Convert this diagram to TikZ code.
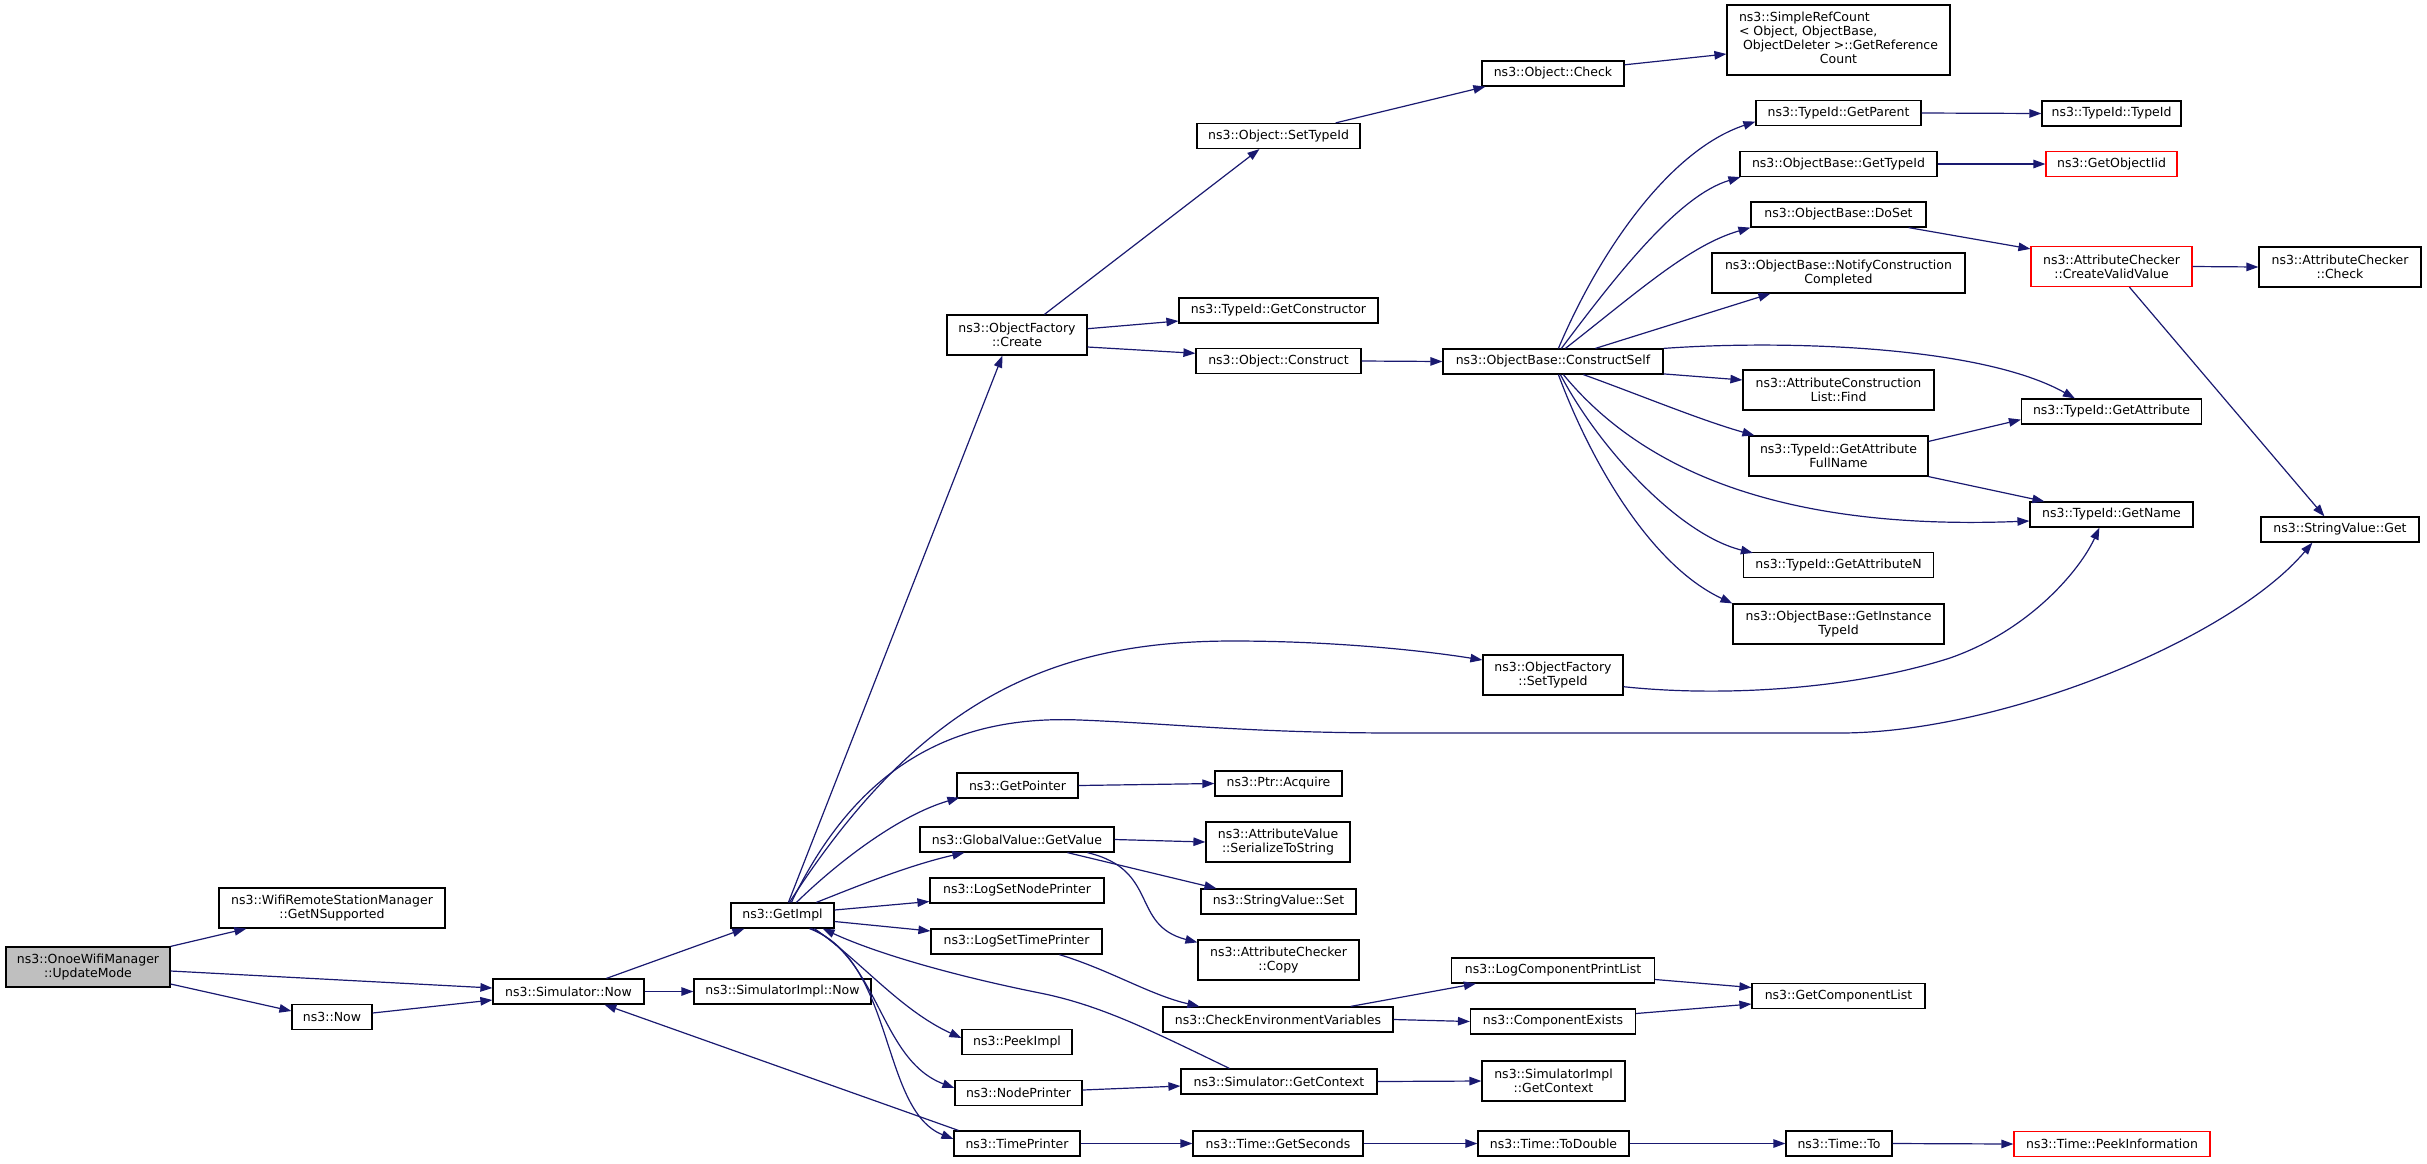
\documentclass[tikz,border=0pt]{standalone}
\usepackage{fontspec}
\setmainfont{DejaVu Sans}
\usetikzlibrary{arrows.meta}
\definecolor{mblue}{RGB}{25,25,112}
\definecolor{rootgray}{RGB}{191,191,191}
\newcommand{\nbox}[7][]{\node[box,#1,minimum width=#5pt,minimum height=#6pt] (#2) at (#3,#4) {#7};}
\begin{document}
\begin{tikzpicture}[x=1pt,y=-1pt,
  box/.style={draw=black, line width=1.2pt, fill=white, inner sep=0pt, align=center, font=\fontsize{12.5}{14}\selectfont, rectangle},
  conn/.style={draw=mblue, line width=1.2pt, -{Triangle[length=12pt,width=8.5pt]}}]
\useasboundingbox (0,0) rectangle (2427,1163);

\nbox[fill=rootgray]{root}{88}{967}{164}{40}{ns3::OnoeWifiManager\\::UpdateMode}
\nbox{gns}{332}{908}{226}{40}{ns3::WifiRemoteStationManager\\::GetNSupported}
\nbox{now}{332}{1017}{80}{25}{ns3::Now}
\nbox{simnow}{568.5}{991.5}{151}{25}{ns3::Simulator::Now}
\nbox{simimplnow}{782.5}{991.5}{177}{25}{ns3::SimulatorImpl::Now}
\nbox{getimpl}{782.5}{915.5}{103}{25}{ns3::GetImpl}
\nbox{ofcreate}{1017}{335}{140}{40}{ns3::ObjectFactory\\::Create}
\nbox{osettid}{1278.5}{136}{163}{25}{ns3::Object::SetTypeId}
\nbox{ocheck}{1553}{73.5}{142}{25}{ns3::Object::Check}
\nbox{src}{1838.5}{40}{223}{70}{\begin{tabular}{@{}l@{}}ns3::SimpleRefCount\\< Object, ObjectBase,\\\multicolumn{1}{@{}c@{}}{\ ObjectDeleter >::GetReference}\\\multicolumn{1}{@{}c@{}}{Count}\end{tabular}}
\nbox{gcons}{1278.5}{310.5}{199}{25}{ns3::TypeId::GetConstructor}
\nbox{oconstruct}{1278.5}{361}{165}{25}{ns3::Object::Construct}
\nbox{cself}{1553}{361.5}{220}{25}{ns3::ObjectBase::ConstructSelf}
\nbox{getparent}{1838.5}{113}{165}{25}{ns3::TypeId::GetParent}
\nbox{tidtid}{2111.5}{113.5}{139}{25}{ns3::TypeId::TypeId}
\nbox{obgettid}{1838.5}{164}{197}{25}{ns3::ObjectBase::GetTypeId}
\nbox[draw=red]{goiid}{2111.5}{164}{131}{25}{ns3::GetObjectIid}
\nbox{doset}{1838.5}{214.5}{175}{25}{ns3::ObjectBase::DoSet}
\nbox[draw=red]{cvv}{2111.5}{266.5}{161}{40}{ns3::AttributeChecker\\::CreateValidValue}
\nbox{acheck}{2340}{267}{162}{40}{ns3::AttributeChecker\\::Check}
\nbox{notify}{1838.5}{273}{253}{40}{ns3::ObjectBase::NotifyConstruction\\Completed}
\nbox{acfind}{1838.5}{390}{191}{40}{ns3::AttributeConstruction\\List::Find}
\nbox{getattr}{2111.5}{411.5}{180}{25}{ns3::TypeId::GetAttribute}
\nbox{getfull}{1838.5}{456}{179}{40}{ns3::TypeId::GetAttribute\\FullName}
\nbox{getname}{2111.5}{514.5}{163}{25}{ns3::TypeId::GetName}
\nbox{svget}{2340}{529.5}{158}{25}{ns3::StringValue::Get}
\nbox{getattrn}{1838.5}{565}{190}{25}{ns3::TypeId::GetAttributeN}
\nbox{ginst}{1838.5}{624}{211}{40}{ns3::ObjectBase::GetInstance\\TypeId}
\nbox{ofsettid}{1553}{675}{140}{40}{ns3::ObjectFactory\\::SetTypeId}
\nbox{getptr}{1017.5}{785.5}{121}{25}{ns3::GetPointer}
\nbox{acquire}{1278.5}{783.5}{127}{25}{ns3::Ptr::Acquire}
\nbox{gvget}{1017}{839.5}{194}{25}{ns3::GlobalValue::GetValue}
\nbox{avser}{1278}{842}{144}{40}{ns3::AttributeValue\\::SerializeToString}
\nbox{lsnp}{1017}{890.5}{174}{25}{ns3::LogSetNodePrinter}
\nbox{svset}{1278.5}{901.5}{155}{25}{ns3::StringValue::Set}
\nbox{lstp}{1016.5}{941.5}{171}{25}{ns3::LogSetTimePrinter}
\nbox{accopy}{1278.5}{960}{161}{40}{ns3::AttributeChecker\\::Copy}
\nbox{cev}{1278}{1019.5}{230}{25}{ns3::CheckEnvironmentVariables}
\nbox{lcpl}{1553}{970.5}{203}{25}{ns3::LogComponentPrintList}
\nbox{cexists}{1553}{1021.5}{165}{25}{ns3::ComponentExists}
\nbox{gcl}{1838.5}{996}{173}{25}{ns3::GetComponentList}
\nbox{peek}{1017}{1042}{110}{25}{ns3::PeekImpl}
\nbox{nodep}{1018.5}{1093}{127}{25}{ns3::NodePrinter}
\nbox{timep}{1017}{1143.5}{126}{25}{ns3::TimePrinter}
\nbox{simctx}{1279}{1081.5}{196}{25}{ns3::Simulator::GetContext}
\nbox{simimplctx}{1553.5}{1081}{143}{40}{ns3::SimulatorImpl\\::GetContext}
\nbox{getsec}{1278}{1143.5}{170}{25}{ns3::Time::GetSeconds}
\nbox{todouble}{1553.5}{1143.5}{151}{25}{ns3::Time::ToDouble}
\nbox{timeto}{1839}{1143.5}{106}{25}{ns3::Time::To}
\nbox[draw=red]{peekinfo}{2112}{1144}{196}{25}{ns3::Time::PeekInformation}

% root edges
\draw[conn] (root.north east) -- ([xshift=28pt]gns.south west);
\draw[conn] ([yshift=-4pt]root.east) -- ([yshift=3.5pt]simnow.west);
\draw[conn] ([yshift=-17pt]root.east) -- ([yshift=6pt]now.west);
\draw[conn] ([yshift=4pt]now.east) -- ([yshift=-8.5pt]simnow.west);
\draw[conn] ([xshift=114pt]simnow.north west) -- ([xshift=14pt]getimpl.south west);
\draw[conn] (simnow.east) -- (simimplnow.west);

% GetImpl edges
\draw[conn] ([xshift=58pt]getimpl.north west) -- ([xshift=56pt]ofcreate.south west);
\draw[conn] ([xshift=59pt]getimpl.north west) .. controls (920,700) and (1050,641) .. (1233,641) .. controls (1330,641) and (1420,650) .. ([yshift=15pt]ofsettid.west);
\draw[conn] ([xshift=61pt]getimpl.north west) .. controls (860,760) and (960,715) .. (1080,720) .. controls (1180,724) and (1250,733) .. (1400,733) -- (1840,733) .. controls (2000,733) and (2230,640) .. ([xshift=52pt]svget.south west);
\draw[conn] ([xshift=66pt]getimpl.north west) .. controls (840,860) and (900,815) .. ([xshift=3pt,yshift=1pt]getptr.south west);
\draw[conn] ([xshift=86pt]getimpl.north west) .. controls (860,885) and (910,865) .. ([xshift=45pt]gvget.south west);
\draw[conn] ([yshift=5.5pt]getimpl.east) -- ([yshift=-11pt]lsnp.west);
\draw[conn] ([yshift=-6pt]getimpl.east) -- ([yshift=10.5pt]lstp.west);
\draw[conn] ([xshift=84pt]getimpl.south west) .. controls (860,960) and (900,1010) .. ([yshift=4pt]peek.west);
\draw[conn] ([xshift=81pt]getimpl.south west) .. controls (880,960) and (880,1060) .. ([yshift=5pt]nodep.west);
\draw[conn] ([xshift=79pt]getimpl.south west) .. controls (895,960) and (880,1110) .. ([yshift=4.5pt]timep.west);
\draw[conn] ([xshift=5pt]timep.north west) -- ([xshift=112pt]simnow.south west);
\draw[conn] ([xshift=49pt]simctx.north west) .. controls (1150,1030) and (1100,1005) .. (1040,993) .. controls (960,977) and (880,955) .. ([xshift=-12pt]getimpl.south east);

% middle column
\draw[conn] (gvget.east) -- (avser.west);
\draw[conn] ([xshift=148pt]gvget.south west) -- ([xshift=16pt]svset.north west);
\draw[conn] ([xshift=168pt]gvget.south west) .. controls (1160,870) and (1130,925) .. ([yshift=-3pt]accopy.north west);
\draw[conn] ([xshift=129pt]lstp.south west) .. controls (1110,970) and (1150,995) .. ([xshift=37pt]cev.north west);
\draw[conn] (getptr.east) -- (acquire.west);
\draw[conn] ([xshift=-43pt]cev.north east) -- ([xshift=25pt]lcpl.south west);
\draw[conn] (cev.east) -- (cexists.west);
\draw[conn] ([yshift=-9pt]lcpl.east) -- ([yshift=8.5pt]gcl.west);
\draw[conn] ([yshift=8pt]cexists.east) -- ([yshift=-8pt]gcl.west);
\draw[conn] ([yshift=3pt]nodep.east) -- ([yshift=-4.5pt]simctx.west);
\draw[conn] (simctx.east) -- (simimplctx.west);
\draw[conn] (timep.east) -- (getsec.west);
\draw[conn] (getsec.east) -- (todouble.west);
\draw[conn] (todouble.east) -- (timeto.west);
\draw[conn] (timeto.east) -- (peekinfo.west);

% ObjectFactory::Create branch
\draw[conn] ([xshift=98pt]ofcreate.north west) -- ([xshift=63pt]osettid.south west);
\draw[conn] ([yshift=6.3pt]ofcreate.east) -- ([yshift=-10.5pt]gcons.west);
\draw[conn] ([yshift=-12pt]ofcreate.east) -- ([yshift=7.7pt]oconstruct.west);
\draw[conn] ([xshift=-25pt]osettid.north east) -- ([xshift=4pt]ocheck.south west);
\draw[conn] ([yshift=8.7pt]ocheck.east) -- ([yshift=-14pt]src.west);
\draw[conn] (oconstruct.east) -- (cself.west);

% ConstructSelf fan
\draw[conn] ([xshift=116pt]cself.north west) .. controls (1600,250) and (1670,150) .. ([yshift=4.5pt]getparent.south west);
\draw[conn] ([xshift=119pt]cself.north west) .. controls (1620,270) and (1680,195) .. ([xshift=1pt]obgettid.south west);
\draw[conn] ([xshift=123pt]cself.north west) .. controls (1640,290) and (1690,245) .. (doset.south west);
\draw[conn] ([xshift=153pt]cself.north west) -- ([xshift=59pt]notify.south west);
\draw[conn] (cself.north east) .. controls (1780,340) and (1980,345) .. ([xshift=54pt]getattr.north west);
\draw[conn] ([yshift=0.7pt]cself.south east) -- ([yshift=10pt]acfind.west);
\draw[conn] ([xshift=141pt]cself.south west) .. controls (1640,395) and (1700,420) .. ([xshift=6pt]getfull.north west);
\draw[conn] ([xshift=121pt]cself.south west) .. controls (1650,480) and (1800,530) .. ([yshift=-6.5pt]getname.west);
\draw[conn] ([xshift=118pt]cself.south west) .. controls (1600,450) and (1680,535) .. ([xshift=10pt,yshift=-1pt]getattrn.north west);
\draw[conn] ([xshift=116pt]cself.south west) .. controls (1590,460) and (1650,565) .. (ginst.north west);

% right side
\draw[conn] (getparent.east) -- (tidtid.west);
\draw[conn] (obgettid.east) -- (goiid.west);
\draw[conn] ([xshift=-18pt]doset.south east) -- ([yshift=-3pt]cvv.north west);
\draw[conn] (cvv.east) -- (acheck.west);
\draw[conn] ([xshift=99pt]cvv.south west) -- ([xshift=64pt]svget.north west);
\draw[conn] ([yshift=-6pt]getfull.north east) -- ([yshift=5pt]getattr.south west);
\draw[conn] (getfull.south east) -- ([xshift=15pt]getname.north west);
\draw[conn] ([yshift=-11.7pt]ofsettid.east) .. controls (1720,697) and (1850,690) .. (1950,658) .. controls (2030,630) and (2080,570) .. ([xshift=70pt]getname.south west);
\end{tikzpicture}
\end{document}
